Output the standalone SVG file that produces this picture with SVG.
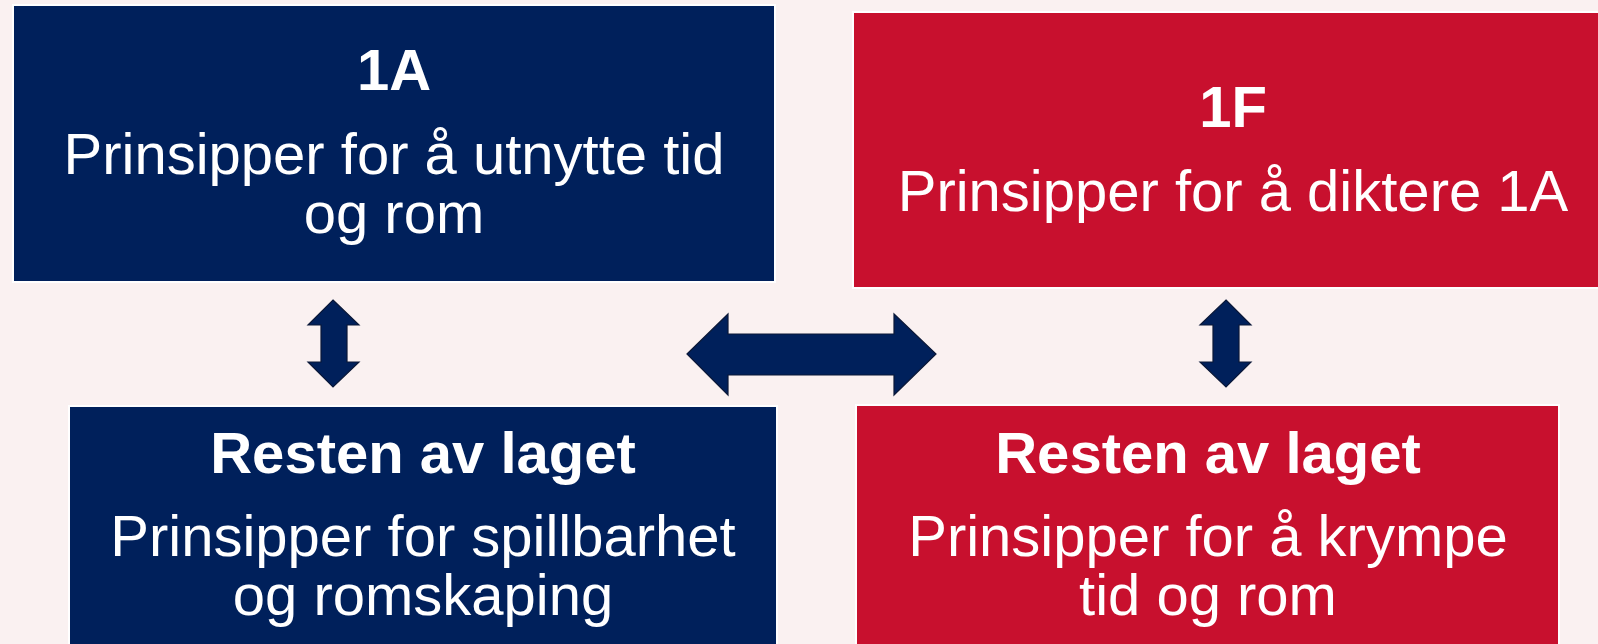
<svg xmlns="http://www.w3.org/2000/svg" width="1598" height="644" viewBox="0 0 1598 644">
<style>
.navy{fill:#00205B;stroke:#ffffff;stroke-width:2}
.red{fill:#C8102E;stroke:#ffffff;stroke-width:2}
.t{font-family:"Liberation Sans",Arial,sans-serif;font-size:58px;fill:#ffffff;text-anchor:middle}
.b{font-weight:bold}
.arr{fill:#00205B;stroke:#0a1838;stroke-width:1.2}
</style>
<rect width="1598" height="644" fill="#FAF1F1"/>
<g id="node-1A">
<rect class="navy" x="13" y="5" width="762" height="277"/>
<text class="t b" x="394" y="90">1A</text>
<text class="t" x="394" y="174">Prinsipper for å utnytte tid</text>
<text class="t" x="394" y="233">og rom</text>
</g>
<g id="node-1F">
<rect class="red" x="853" y="12" width="800" height="276"/>
<text class="t b" x="1233" y="127">1F</text>
<text class="t" x="1233" y="211">Prinsipper for å diktere 1A</text>
</g>
<g id="node-rest-blue">
<rect class="navy" x="69" y="406" width="708" height="260"/>
<text class="t b" x="423" y="473">Resten av laget</text>
<text class="t" x="423" y="556">Prinsipper for spillbarhet</text>
<text class="t" x="423" y="615">og romskaping</text>
</g>
<g id="node-rest-red">
<rect class="red" x="856" y="405" width="703" height="260"/>
<text class="t b" x="1208" y="473">Resten av laget</text>
<text class="t" x="1208" y="556">Prinsipper for å krympe</text>
<text class="t" x="1208" y="615">tid og rom</text>
</g>
<g id="connectors">
<polygon class="arr" points="333,300 359,325 347,325 347,362 359,362 333,387 308,362 321,362 321,325 308,325"/>
<polygon class="arr" points="1226,300 1251,325 1239,325 1239,362 1251,362 1226,387 1200,362 1213,362 1213,325 1200,325"/>
<polygon class="arr" points="687,354 728,314 728,334 894,334 894,314 936,354 894,395 894,375 728,375 728,395"/>
</g>
</svg>
